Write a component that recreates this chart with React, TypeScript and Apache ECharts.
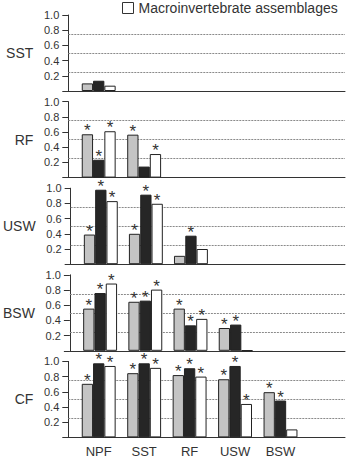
import React, { useEffect, useRef } from "react";
import * as echarts from "echarts";

const categories = ["NPF", "SST", "RF", "USW", "BSW"];
const panels = ["SST", "RF", "USW", "BSW", "CF"];
const seriesNames = ["Fish assemblages", "Diatom assemblages", "Macroinvertebrate assemblages"];

// values per panel (rows) and category (columns); null = not shown
const grayValues: (number | null)[][] = [
  [0.1, null, null, null, null],
  [0.57, 0.565, null, null, null],
  [0.39, 0.4, 0.11, null, null],
  [0.555, 0.645, 0.555, 0.3, null],
  [0.705, 0.845, 0.82, 0.765, 0.595],
];
const blackValues: (number | null)[][] = [
  [0.135, null, null, null, null],
  [0.235, 0.145, null, null, null],
  [0.98, 0.915, 0.375, null, null],
  [0.76, 0.66, 0.335, 0.345, null],
  [0.975, 0.975, 0.91, 0.94, 0.485],
];
const whiteValues: (number | null)[][] = [
  [0.07, null, null, null, null],
  [0.61, 0.31, null, null, null],
  [0.83, 0.795, 0.2, null, null],
  [0.885, 0.805, 0.42, 0.005, null],
  [0.94, 0.915, 0.8, 0.44, 0.105],
];
// significance markers (asterisks)
const graySig = [
  [0, 0, 0, 0, 0],
  [1, 1, 0, 0, 0],
  [1, 1, 0, 0, 0],
  [1, 1, 1, 1, 0],
  [1, 1, 1, 1, 1],
];
const blackSig = [
  [0, 0, 0, 0, 0],
  [1, 0, 0, 0, 0],
  [1, 1, 1, 0, 0],
  [1, 1, 1, 1, 0],
  [1, 1, 1, 1, 1],
];
const whiteSig = [
  [0, 0, 0, 0, 0],
  [1, 1, 0, 0, 0],
  [1, 1, 0, 0, 0],
  [1, 1, 1, 0, 0],
  [1, 1, 1, 1, 0],
];
const refLines = [0.25, 0.5, 0.75];

const FONT = "'Liberation Sans', Arial, Helvetica, sans-serif";
const fills = ["#c4c4c4", "#262626", "#ffffff"];

export default function App() {
  const ref = useRef<HTMLDivElement>(null);
  useEffect(() => {
    document.body.style.margin = "0";
    const chart = echarts.init(ref.current!, null, { renderer: "svg" });
    const gridTop0 = 15;
    const step = 86.6;
    const gridH = 76;
    const grids: any[] = [];
    const xAxes: any[] = [];
    const yAxes: any[] = [];
    const series: any[] = [];
    const valueSets = [grayValues, blackValues, whiteValues];
    const sigSets = [graySig, blackSig, whiteSig];
    panels.forEach((p, pi) => {
      grids.push({ left: 68.3, right: 5, top: gridTop0 + pi * step, height: gridH });
      const isLast = pi === panels.length - 1;
      xAxes.push({
        type: "value",
        gridIndex: pi,
        min: -0.669,
        max: 5.419,
        axisLine: { show: true, onZero: false, lineStyle: { color: "#333", width: 1 } },
        axisTick: { show: false },
        splitLine: { show: false },
        axisLabel: isLast
          ? {
              show: true,
              customValues: categories.map((_, i) => i),
              formatter: (v: number) => categories[Math.round(v)] ?? "",
              fontSize: 13,
              color: "#333",
              fontFamily: FONT,
              margin: 8,
            }
          : { show: false },
      });
      yAxes.push({
        type: "value",
        gridIndex: pi,
        min: 0,
        max: 1,
        interval: 0.2,
        name: p,
        nameLocation: "middle",
        nameRotate: 0,
        nameGap: 35,
        nameTextStyle: { fontSize: 14, color: "#333", align: "right", verticalAlign: "middle", fontFamily: FONT },
        axisLine: { show: true, onZero: false, lineStyle: { color: "#333", width: 1 } },
        axisTick: { show: true, length: 6, lineStyle: { color: "#333" } },
        splitLine: { show: false },
        axisLabel: {
          formatter: (v: number) => (v === 0 ? "" : v.toFixed(1)),
          fontSize: 11,
          color: "#333",
          margin: 9,
          fontFamily: FONT,
        },
      });
      valueSets.forEach((vals, si) => {
        series.push({
          type: "bar",
          name: seriesNames[si],
          xAxisIndex: pi,
          yAxisIndex: pi,
          barWidth: 11.3,
          barGap: "0%",
          z: 3,
          itemStyle: { color: fills[si], borderColor: "#222", borderWidth: 1 },
          data: categories.map((_, ci) => ({
            value: [ci, vals[pi][ci]],
            label: {
              show: sigSets[si][pi][ci] === 1,
              position: "top",
              distance: -5,
              formatter: "*",
              fontSize: 17,
              lineHeight: 17,
              color: "#333",
              fontFamily: FONT,
            },
          })),
          markLine:
            si === 0
              ? {
                  silent: true,
                  z: 1,
                  symbol: ["none", "none"],
                  label: { show: false },
                  lineStyle: { type: [2, 1], color: "#8a8a8a", width: 1 },
                  data: refLines.map((y) => ({ yAxis: y })),
                }
              : undefined,
        });
      });
    });
    chart.setOption({
      animation: false,
      textStyle: { fontFamily: FONT },
      legend: {
        show: true,
        data: [seriesNames[2]],
        left: 117,
        top: 1,
        padding: [0, 5, 0, 5],
        itemWidth: 11,
        itemHeight: 11,
        icon: "rect",
        itemStyle: { borderColor: "#333", borderWidth: 1 },
        textStyle: { fontSize: 14, lineHeight: 14, color: "#333", fontFamily: FONT },
      },
      grid: grids,
      xAxis: xAxes,
      yAxis: yAxes,
      series,
    });
    return () => chart.dispose();
  }, []);
  return <div ref={ref} style={{ width: 350, height: 461 }} />;
}
